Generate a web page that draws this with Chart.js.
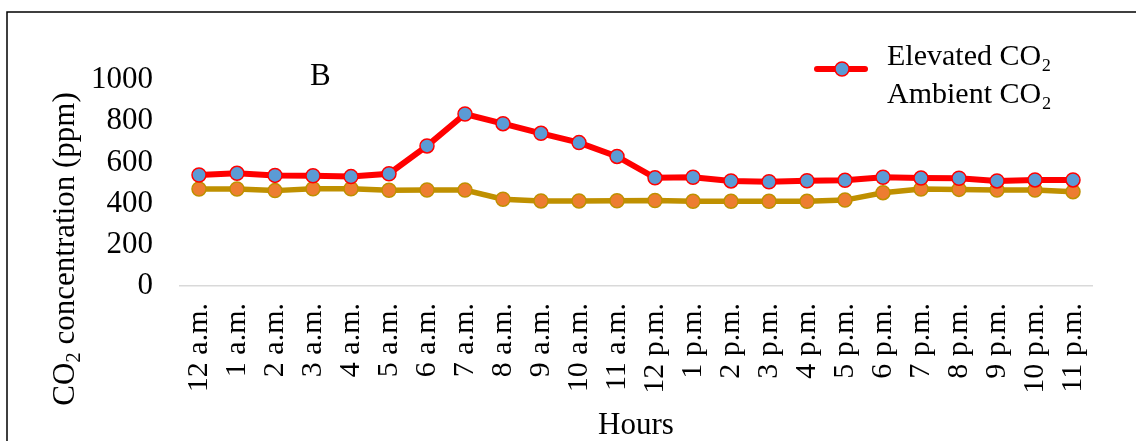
<!DOCTYPE html>
<html>
<head>
<meta charset="utf-8">
<title>CO₂ concentration by hour</title>
<script src="https://cdn.jsdelivr.net/npm/chart.js@4/dist/chart.umd.min.js"></script>
<style>
  html, body { margin: 0; padding: 0; background: #ffffff; }
  #wrap { width: 1136px; height: 441px; position: relative; }
</style>
</head>
<body>
<div id="wrap"><canvas id="chart"></canvas></div>
<script>
// Hourly readings over one day
const hours = [
  '12 a.m.', '1 a.m.', '2 a.m.', '3 a.m.', '4 a.m.', '5 a.m.',
  '6 a.m.', '7 a.m.', '8 a.m.', '9 a.m.', '10 a.m.', '11 a.m.',
  '12 p.m.', '1 p.m.', '2 p.m.', '3 p.m.', '4 p.m.', '5 p.m.',
  '6 p.m.', '7 p.m.', '8 p.m.', '9 p.m.', '10 p.m.', '11 p.m.'
];
const elevatedCO2 = [539, 547, 537, 535, 531, 545, 680, 835, 788, 741, 696, 629,
                     525, 528, 510, 506, 511, 513, 528, 524, 523, 510, 515, 515];
const ambientCO2  = [471, 471, 463, 472, 472, 465, 466, 466, 421, 413, 413, 414,
                     415, 411, 411, 411, 411, 417, 453, 471, 469, 466, 466, 458];
const yTicks = [0, 200, 400, 600, 800, 1000];
const seriesNames = ['Elevated CO₂', 'Ambient CO₂'];
const panelLetter = 'B';
const yTitleParts = ['CO', '2', ' concentration (ppm)'];
const xTitle = 'Hours';

const SERIF = '"Liberation Serif", "Times New Roman", "DejaVu Serif", serif';

// Outer frame, panel letter, legend and the y-axis title with a real subscript
const decorations = {
  id: 'decorations',
  beforeDraw(chart) {
    const ctx = chart.ctx;
    ctx.save();
    ctx.fillStyle = '#ffffff';
    ctx.fillRect(0, 0, chart.width, chart.height);
    ctx.restore();
  },
  afterDraw(chart) {
    const ctx = chart.ctx;
    ctx.save();

    // frame (top and left edges)
    ctx.strokeStyle = '#000000';
    ctx.lineWidth = 1.5;
    ctx.beginPath();
    ctx.moveTo(7, chart.height);
    ctx.lineTo(7, 12);
    ctx.lineTo(chart.width, 12);
    ctx.stroke();

    // panel letter
    ctx.fillStyle = '#000000';
    ctx.font = '31px ' + SERIF;
    ctx.textAlign = 'left';
    ctx.textBaseline = 'alphabetic';
    ctx.fillText(panelLetter, 310, 85);

    // legend
    const ds0 = chart.data.datasets[0];
    ctx.strokeStyle = ds0.borderColor;
    ctx.lineWidth = 6;
    ctx.lineCap = 'round';
    ctx.beginPath();
    ctx.moveTo(817, 69);
    ctx.lineTo(865, 69);
    ctx.stroke();
    ctx.beginPath();
    ctx.arc(842, 69, 7, 0, Math.PI * 2);
    ctx.fillStyle = ds0.pointBackgroundColor;
    ctx.fill();
    ctx.lineWidth = 1.5;
    ctx.strokeStyle = ds0.pointBorderColor;
    ctx.stroke();

    ctx.fillStyle = '#000000';
    ctx.font = '30px ' + SERIF;
    ctx.fillText(chart.data.datasets[0].label, 887, 65);
    ctx.fillText(chart.data.datasets[1].label, 887, 103);

    // y-axis title, rotated, with subscript 2
    const big = '31px ' + SERIF;
    const small = '21px ' + SERIF;
    ctx.font = big;
    const w0 = ctx.measureText(yTitleParts[0]).width;
    const w2 = ctx.measureText(yTitleParts[2]).width;
    ctx.font = small;
    const w1 = ctx.measureText(yTitleParts[1]).width;
    const total = w0 + w1 + w2;
    ctx.translate(74, 249);
    ctx.rotate(-Math.PI / 2);
    let x = -total / 2;
    ctx.font = big;
    ctx.fillText(yTitleParts[0], x, 0);
    x += w0;
    ctx.font = small;
    ctx.fillText(yTitleParts[1], x, 6);
    x += w1;
    ctx.font = big;
    ctx.fillText(yTitleParts[2], x, 0);

    ctx.restore();
  }
};

new Chart(document.getElementById('chart'), {
  type: 'line',
  data: {
    labels: hours,
    datasets: [
      {
        label: seriesNames[0],
        data: elevatedCO2,
        borderColor: '#FF0000',
        borderWidth: 6,
        pointBackgroundColor: '#5B9BD5',
        pointBorderColor: '#FF0000',
        pointBorderWidth: 1.5,
        pointRadius: 7,
        tension: 0
      },
      {
        label: seriesNames[1],
        data: ambientCO2,
        borderColor: '#BF9000',
        borderWidth: 5.5,
        pointBackgroundColor: '#ED7D31',
        pointBorderColor: '#BF9000',
        pointBorderWidth: 1.5,
        pointRadius: 7,
        tension: 0
      }
    ]
  },
  options: {
    responsive: true,
    maintainAspectRatio: false,
    animation: false,
    devicePixelRatio: 1,
    layout: { padding: { left: 0, top: 80, right: 44, bottom: 0 } },
    plugins: {
      legend: { display: false },
      tooltip: { enabled: false },
      title: { display: false }
    },
    scales: {
      x: {
        type: 'category',
        offset: true,
        grid: { display: false, drawTicks: false },
        border: { display: true, color: '#D9D9D9', width: 1.5 },
        ticks: {
          autoSkip: false,
          maxRotation: 90,
          minRotation: 90,
          padding: 17,
          color: '#000000',
          font: { family: SERIF, size: 30 }
        },
        title: {
          display: true,
          text: xTitle,
          color: '#000000',
          font: { family: SERIF, size: 31, lineHeight: 1 },
          padding: { top: 0, bottom: 0 }
        },
        afterFit(scale) { scale.height = 155; }
      },
      y: {
        type: 'linear',
        min: 0,
        max: 1000,
        afterBuildTicks(scale) { scale.ticks = yTicks.map(v => ({ value: v })); },
        grid: { display: false, drawTicks: false },
        border: { display: false },
        ticks: {
          padding: 27,
          color: '#000000',
          font: { family: SERIF, size: 31 },
          callback: (value) => String(value)
        },
        afterFit(scale) { scale.width = 180; }
      }
    }
  },
  plugins: [decorations]
});
</script>
</body>
</html>
